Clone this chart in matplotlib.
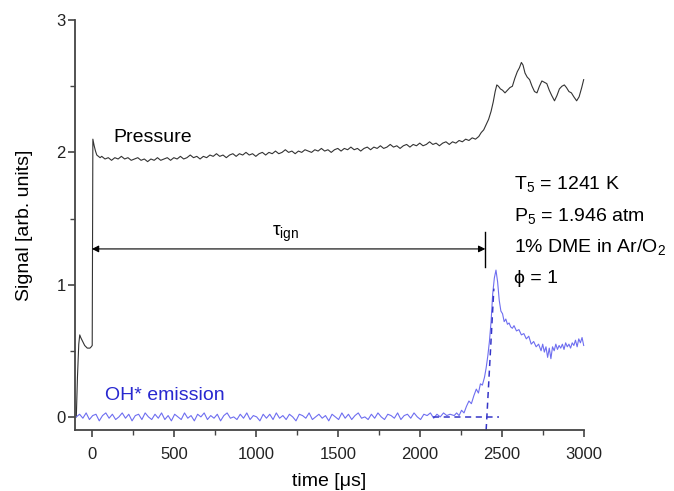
import numpy as np
import matplotlib
matplotlib.use("Agg")
import matplotlib.pyplot as plt

plt.rcParams['font.family'] = ['Liberation Sans', 'DejaVu Sans']
plt.rcParams['mathtext.fontset'] = 'custom'
plt.rcParams['mathtext.rm'] = 'Liberation Sans'
plt.rcParams['mathtext.it'] = 'Liberation Sans:italic'

# pressure trace: shock arrival
p_start_t = [-95, -88, -80, -74, -68, -60, -52, -44, -36, -28, -20, -12, -4, 2,
             6, 14, 22, 30, 40, 50]
p_start_v = [0.00, 0.30, 0.55, 0.62, 0.60, 0.58, 0.56, 0.54, 0.53, 0.52, 0.52, 0.52, 0.53, 0.54,
             2.10, 2.05, 2.01, 1.98, 1.97, 1.96]

# pressure trace: plateau, sampled every 20 us from 60 us
p_base_t0 = 60
p_base_dt = 20
p_base_v = [1.97, 1.95, 1.96, 1.94, 1.96, 1.95, 1.97, 1.95, 1.96, 1.94,
            1.95, 1.96, 1.94, 1.95, 1.93, 1.95, 1.94, 1.96, 1.94, 1.95,
            1.96, 1.94, 1.96, 1.95, 1.97, 1.95, 1.96, 1.98, 1.96, 1.97,
            1.95, 1.97, 1.96, 1.98, 1.97, 1.99, 1.97, 1.98, 1.96, 1.98,
            1.99, 1.97, 1.99, 1.98, 2.00, 1.98, 1.99, 1.97, 1.99, 2.00,
            1.98, 2.00, 1.99, 2.01, 1.99, 2.00, 2.02, 2.00, 2.01, 1.99,
            2.01, 2.00, 2.02, 2.01, 2.00, 2.02, 2.01, 2.03, 2.01, 2.02,
            2.00, 2.02, 2.03, 2.01, 2.03, 2.02, 2.04, 2.02, 2.03, 2.01,
            2.03, 2.04, 2.02, 2.04, 2.03, 2.05, 2.03, 2.04, 2.06, 2.04,
            2.05, 2.03, 2.05, 2.06, 2.04, 2.06, 2.05, 2.07, 2.05, 2.06,
            2.08, 2.06, 2.07, 2.05, 2.07, 2.08, 2.06, 2.08, 2.07, 2.09,
            2.08, 2.10, 2.09, 2.11, 2.10]

# pressure trace: ignition rise and oscillations
p_ign_t = [2360, 2375, 2390, 2405, 2420, 2435, 2448, 2460, 2470, 2480, 2492, 2505,
           2520, 2535, 2550, 2565, 2580, 2595, 2608, 2620, 2630, 2642, 2655, 2670,
           2685, 2700, 2715, 2730, 2745, 2760, 2775, 2790, 2805, 2822, 2837, 2852,
           2867, 2882, 2895, 2910, 2925, 2940, 2957, 2972, 2988, 3000]
p_ign_v = [2.12, 2.15, 2.17, 2.21, 2.25, 2.31, 2.38, 2.46, 2.51, 2.50, 2.48, 2.47,
           2.45, 2.47, 2.49, 2.50, 2.56, 2.61, 2.64, 2.68, 2.66, 2.60, 2.57, 2.55,
           2.50, 2.46, 2.45, 2.50, 2.54, 2.53, 2.52, 2.47, 2.43, 2.39, 2.43, 2.48,
           2.50, 2.51, 2.49, 2.46, 2.45, 2.42, 2.39, 2.42, 2.49, 2.55]

# OH* emission: baseline, sampled every 20 us from -95 us
oh_base_t0 = -95
oh_base_dt = 20
oh_base_v = [0.00, 0.02, -0.01, 0.03, -0.02, 0.01, 0.02, -0.03, 0.01, 0.03,
             -0.01, 0.02, -0.02, 0.00, 0.03, -0.01, 0.02, -0.03, 0.01, 0.02,
             -0.02, 0.03, 0.00, -0.02, 0.02, -0.01, 0.03, -0.02, 0.01, -0.03,
             0.02, 0.00, -0.02, 0.03, -0.01, 0.01, -0.03, 0.02, 0.00, 0.03,
             -0.02, 0.01, -0.01, 0.02, -0.03, 0.01, 0.03, -0.01, 0.00, -0.02,
             0.02, -0.01, 0.03, -0.02, 0.01, 0.00, -0.03, 0.02, -0.01, 0.02,
             -0.02, 0.03, -0.01, 0.01, -0.02, 0.02, 0.00, -0.03, 0.02, 0.01,
             -0.01, 0.03, -0.02, 0.00, 0.02, -0.01, 0.01, -0.03, 0.02, 0.00,
             -0.02, 0.03, -0.01, 0.02, -0.02, 0.01, 0.03, -0.01, 0.00, -0.02,
             0.02, -0.01, 0.03, 0.00, -0.02, 0.02, 0.01, -0.01, 0.03, -0.02,
             0.01, 0.02, -0.01, 0.03, 0.00, -0.02, 0.02, 0.01, 0.03, -0.01,
             0.02, 0.00, 0.03, 0.01, 0.02]

# OH* emission: ignition peak and decay
oh_ign_t = [2210, 2225, 2240, 2255, 2270, 2285, 2300, 2315, 2330, 2345, 2358, 2370,
            2382, 2395, 2405, 2415, 2425, 2435, 2445, 2455, 2465, 2475, 2485, 2495,
            2505, 2515, 2525, 2535, 2545, 2555, 2565, 2575, 2590, 2605, 2620, 2635,
            2650, 2665, 2680, 2695, 2710, 2725, 2740, 2750, 2760, 2770, 2780, 2790,
            2800, 2810, 2820, 2830, 2840, 2850, 2860, 2870, 2880, 2890, 2900, 2910,
            2920, 2930, 2940, 2950, 2960, 2970, 2980, 2990, 3000]
oh_ign_v = [0.01, 0.03, 0.01, 0.05, 0.03, 0.08, 0.12, 0.10, 0.16, 0.21, 0.18, 0.25,
            0.24, 0.30, 0.37, 0.46, 0.57, 0.72, 0.93, 1.05, 1.11, 1.02, 0.88, 0.80,
            0.78, 0.72, 0.74, 0.70, 0.71, 0.68, 0.67, 0.69, 0.65, 0.66, 0.62, 0.63,
            0.59, 0.61, 0.55, 0.57, 0.53, 0.55, 0.50, 0.55, 0.49, 0.53, 0.45, 0.52,
            0.44, 0.53, 0.50, 0.55, 0.51, 0.54, 0.52, 0.55, 0.51, 0.56, 0.53, 0.55,
            0.52, 0.56, 0.54, 0.58, 0.53, 0.59, 0.56, 0.60, 0.54]

# ignition delay construction
tau_ign = 2400
tangent_t = [2405, 2452]
tangent_v = [-0.10, 0.97]
baseline_t = [2080, 2485]

p_t = np.concatenate([p_start_t, p_base_t0 + p_base_dt * np.arange(len(p_base_v)), p_ign_t])
p_v = np.concatenate([p_start_v, p_base_v, p_ign_v])
oh_t = np.concatenate([oh_base_t0 + oh_base_dt * np.arange(len(oh_base_v)), oh_ign_t])
oh_v = np.concatenate([oh_base_v, oh_ign_v])

fig = plt.figure(figsize=(6.74, 4.91), dpi=100)
ax = fig.add_axes([0.112, 0.124, 0.754, 0.835])

ax.plot(p_t, p_v, color='#333333', lw=0.8, clip_on=False)
ax.plot(oh_t, oh_v, color='#6e6ef0', lw=0.8, clip_on=False)

blue = '#3535c8'
ax.plot(tangent_t, tangent_v, color=blue, lw=1.1, ls=(0, (4, 3)), clip_on=False)
ax.plot(baseline_t, [0, 0], color=blue, lw=1.1, ls=(0, (4, 3)))

# tau_ign arrow
ax.annotate('', xy=(0, 1.27), xytext=(tau_ign, 1.27),
            arrowprops=dict(arrowstyle='<|-|>', color='black', lw=0.8,
                            mutation_scale=10, shrinkA=0, shrinkB=0))
ax.plot([tau_ign, tau_ign], [1.13, 1.40], color='black', lw=1.0)
ax.text(1180, 1.37, 'τ$_\\mathregular{ign}$', fontsize=14, ha='center', va='baseline')

ax.text(130, 2.08, 'Pressure', fontsize=14, va='baseline')
ax.text(80, 0.125, 'OH* emission', fontsize=14, va='baseline', color='#2828d0')

tx = 2575
ax.text(tx, 1.72, 'T$_\\mathregular{5}$ = 1241 K', fontsize=14, va='baseline')
ax.text(tx, 1.48, 'P$_\\mathregular{5}$ = 1.946 atm', fontsize=14, va='baseline')
ax.text(tx, 1.25, '1% DME in Ar/O$_\\mathregular{2}$', fontsize=14, va='baseline')
ax.text(tx, 1.01, 'ϕ = 1', fontsize=14, va='baseline')

ax.set_xlim(-100, 3000)
ax.set_ylim(-0.1, 3.0)
ax.set_xticks([0, 500, 1000, 1500, 2000, 2500, 3000])
ax.set_xticks(np.arange(250, 3000, 500), minor=True)
ax.set_yticks([0, 1, 2, 3])
ax.set_yticks([0.5, 1.5, 2.5], minor=True)

for side in ['top', 'right']:
    ax.spines[side].set_visible(False)
for side in ['left', 'bottom']:
    ax.spines[side].set_linewidth(1.3)
    ax.spines[side].set_color('#444444')
ax.tick_params(which='major', direction='out', length=5, width=1.2, color='#444444',
               labelsize=12, pad=2, labelcolor='#222222')
ax.tick_params(which='minor', direction='out', length=3.5, width=1.0, color='#444444')
ax.tick_params(axis='x', which='major', pad=7)

ax.set_xlabel('time [μs]', fontsize=14, labelpad=8)
ax.set_ylabel('Signal [arb. units]', fontsize=14, labelpad=17)

plt.savefig('out.png', dpi=100)
